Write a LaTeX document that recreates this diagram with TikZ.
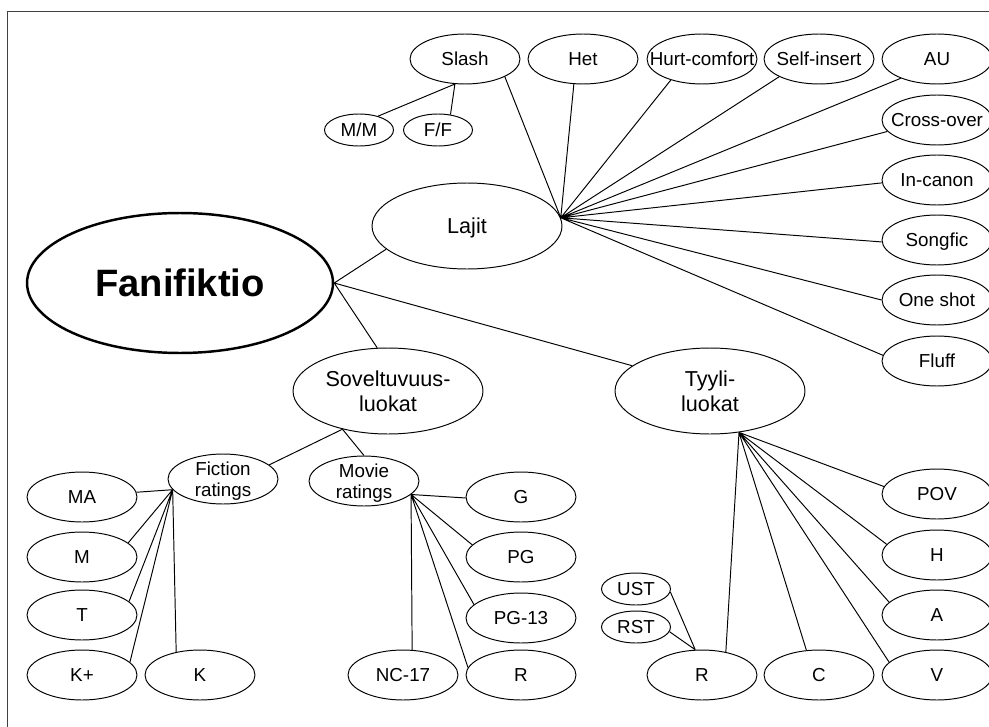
\documentclass[tikz,border=0pt]{standalone}
\usepackage{fontspec}
\setmainfont{Liberation Sans}
\usetikzlibrary{shapes.geometric}

\begin{document}
\begin{tikzpicture}[
    x=0.02cm,y=-0.02cm,line width=0.55pt,
    tag/.style={draw,ellipse,inner sep=0pt,minimum width=2.2cm,
        minimum height=1cm,label={[align=center]center:#1}},
    topic/.style={draw,ellipse,inner sep=0pt,minimum width=3.8cm,
        minimum height=1.72cm,label={[align=center,
        font={\fontsize{12.3}{14.2}\selectfont}]center:#1}},
    subtag/.style={tag=#1,minimum width=1.38cm,minimum height=0.64cm},
    root/.style={draw,ellipse,line width=1.4pt,inner sep=0pt,
        minimum width=6.12cm,minimum height=2.8cm,
        font={\fontsize{21.7}{26}\selectfont\bfseries}},
    every label/.style={font={\fontsize{10.7}{12.2}\selectfont},
        text depth=0pt},
    ]
    % Page and frame
    \clip (0,0) rectangle (989,726);
    \fill[white] (0,0) rectangle (989,726);
    \draw[black!75] (7.5,760) -- (7.5,11.5) -- (1010,11.5);
    % Root and main topics
    \node[root] (fan) at (180,283) {Fanifiktio};
    \node[topic=Lajit] (lajit) at (467,226) {};
    \node[topic={Soveltuvuus-\\luokat}] (sovel) at (388,391) {};
    \node[topic={Tyyli-\\luokat}] (tyyli) at (710,391) {};
    \draw (fan.east) -- (lajit.196)
          (fan.east) -- (sovel.104)
          (fan.east) -- (tyyli.162);
    % Genres
    \node[tag=Slash] (slash) at (465,59) {};
    \node[tag=Het] (het) at (583,59) {};
    \node[tag=Hurt-comfort] (hurt) at (702,59) {};
    \node[tag=Self-insert] (self) at (819,59) {};
    \node[tag=AU] (au) at (937,59) {};
    \node[tag=Cross-over] (cross) at (937,120) {};
    \node[tag=In-canon] (canon) at (937,180) {};
    \node[tag=Songfic] (song) at (937,240) {};
    \node[tag=One shot] (oneshot) at (937,300) {};
    \node[tag=Fluff] (fluff) at (937,361) {};
    \draw (lajit.5) -- (slash.336)
          (lajit.5) -- (het.250)
          (lajit.5) -- (hurt.214)
          (lajit.5) -- (self.204)
          (lajit.5) -- (au.208)
          (lajit.5) -- (cross.193)
          (lajit.5) -- (canon.183)
          (lajit.5) -- (song.182)
          (lajit.5) -- (oneshot.180)
          (lajit.5) -- (fluff.174);
    % Slash pairings
    \node[subtag=M/M] (mm) at (359,130) {};
    \node[subtag=F/F] (ff) at (438,130) {};
    \draw (slash.248) -- (mm.36)
          (slash.248) -- (ff.51);
    % Ratings
    \node[tag={Fiction\\ratings}] (fiction) at (223,479) {};
    \node[tag={Movie\\ratings}] (movie) at (364,481) {};
    \draw (sovel.220) -- (fiction.17)
          (sovel.220) -- (movie.north);
    \node[tag=MA] (ma) at (82,497) {};
    \node[tag=M] (m) at (82,557) {};
    \node[tag=T] (t) at (82,615) {};
    \node[tag=K+] (kplus) at (82,675) {};
    \node[tag=K] (k) at (200,675) {};
    \draw (fiction.192) -- (ma.5)
          (fiction.192) -- (m.17)
          (fiction.192) -- (t.16)
          (fiction.192) -- (kplus.15)
          (fiction.192) -- (k.136);
    \node[tag=G] (g) at (521,497) {};
    \node[tag=PG] (pg) at (521,557) {};
    \node[tag=PG-13] (pgteen) at (521,618) {};
    \node[tag=R] (rmovie) at (521,675) {};
    \node[tag=NC-17] (nc) at (403,675) {};
    \draw (movie.344) -- (g.181)
          (movie.344) -- (pg.166)
          (movie.344) -- (pgteen.164)
          (movie.344) -- (rmovie.172)
          (movie.344) -- (nc.70);
    % Style classes
    \node[tag=POV] (pov) at (937,494) {};
    \node[tag=H] (h) at (937,555) {};
    \node[tag=A] (a) at (937,615) {};
    \node[tag=V] (v) at (937,675) {};
    \node[tag=C] (c) at (819,675) {};
    \node[tag=R] (rstyle) at (702,675) {};
    \draw (tyyli.305) -- (pov.172)
          (tyyli.305) -- (h.168)
          (tyyli.305) -- (a.165)
          (tyyli.305) -- (v.165)
          (tyyli.305) -- (c.117)
          (tyyli.305) -- (rstyle.44);
    \node[subtag=UST] (ust) at (636,589) {};
    \node[subtag=RST] (rst) at (636,627) {};
    \draw (rstyle.105) -- (ust.355)
          (rstyle.105) -- (rst.352);
\end{tikzpicture}
\end{document}
